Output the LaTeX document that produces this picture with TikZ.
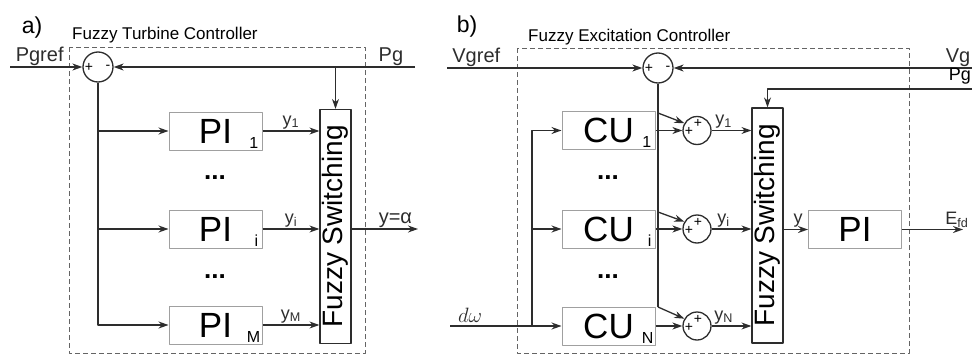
\documentclass[tikz,border=0pt]{standalone}
\usepackage{fontspec}
\setmainfont{Liberation Sans}
\usepackage{tikz}
\usetikzlibrary{arrows.meta}
\definecolor{lnc}{RGB}{45,45,45}
\definecolor{bxc}{RGB}{160,160,160}
\definecolor{frc}{RGB}{100,100,100}

\begin{document}
\begin{tikzpicture}[x=1pt,y=-1pt,line join=round,
  ln/.style={lnc,line width=1.3pt},
  arr/.style={ln,-{Stealth[length=10pt,width=7pt]}},
  frame/.style={frc,line width=0.9pt,dash pattern=on 5pt off 3pt},
  blk/.style={draw=bxc,line width=1pt,minimum width=93pt,minimum height=38pt,inner sep=0pt,font=\fontsize{35}{35}\selectfont},
  fsw/.style={draw=lnc,line width=1.2pt,minimum width=31pt,minimum height=234pt,inner sep=0pt,font=\fontsize{28}{28}\selectfont},
  sum/.style={circle,draw=lnc,line width=1.3pt,minimum size=30pt,inner sep=0pt},
  sumb/.style={sum,minimum size=28pt},
  sig/.style={font=\fontsize{14}{14}\selectfont,inner sep=0pt},
  sub/.style={font=\fontsize{16}{16}\selectfont,inner sep=0pt,anchor=south east},
  lbl/.style={font=\fontsize{20}{20}\selectfont,inner sep=1pt},
  ylbl/.style={font=\fontsize{18}{18}\selectfont,inner sep=1.5pt},
  ttl/.style={font=\fontsize{17}{17}\selectfont,inner sep=0pt,anchor=west},
  tag/.style={font=\fontsize{23}{23}\selectfont,inner sep=0pt},
  dts/.style={font=\fontsize{26}{26}\selectfont\bfseries,inner sep=0pt}]
  \useasboundingbox (0,0) rectangle (972,356);

  % a) turbine controller
  \node[tag] (taga) at (32,28) {a)};
  \node[ttl] (ttla) at (72,35) {Fuzzy Turbine Controller};
  \draw[frame] (69,47) rectangle (365,353);
  \node[sum] (sa) at (98,67) {};
  \node[sig] (sap) at ([xshift=-9pt]sa.center) {+}; \node[sig] (sam) at ([xshift=10pt]sa.center) {-};
  \coordinate (pgrefin) at (10,67); \coordinate (pgin) at (415,67);
  \draw[arr] (pgrefin) -- (sa) node[lbl,above,pos=0.41] (pgref) {Pgref};
  \draw[arr] (pgin) -- (sa) node[lbl,above,pos=0.08] (pga) {Pg};
  \node[fsw] (fsa) at (335.5,226.5) {\rotatebox{90}{Fuzzy Switching}};
  \draw[arr] (fsa.north |- pgin) -- (fsa.north);
  \node[blk] (pi1) at (215.5,131) {PI}; \node[blk] (pii) at (215.5,229) {PI}; \node[blk] (piM) at (215.5,325) {PI};
  \node[sub] (pi1s) at ([xshift=-4pt,yshift=2pt]pi1.south east) {1};
  \node[sub] (piis) at ([xshift=-4pt,yshift=2pt]pii.south east) {i};
  \node[sub] (piMs) at ([xshift=-2pt,yshift=2pt]piM.south east) {M};
  \node[dts] (da1) at (215,178) {...}; \node[dts] (da2) at (215,277) {...};
  \draw[arr] (sa) |- (piM);
  \draw[arr] (sa.south |- pi1) -- (pi1); \draw[arr] (sa.south |- pii) -- (pii);
  \draw[arr] (pi1) -- (pi1 -| fsa.west) node[ylbl,above,midway] (y1a) {y\textsubscript{1}};
  \draw[arr] (pii) -- (pii -| fsa.west) node[ylbl,above,midway] (yia) {y\textsubscript{i}};
  \draw[arr] (piM) -- (piM -| fsa.west) node[ylbl,above,midway] (yMa) {y\textsubscript{M}};
  \coordinate (ya) at (418,229);
  \draw[arr] (fsa.east |- pii) -- (ya) node[lbl,above,pos=0.66] (yout) {y=α};

  % b) excitation controller
  \node[tag] (tagb) at (467,27) {b)};
  \node[ttl] (ttlb) at (528,37) {Fuzzy Excitation Controller};
  \draw[frame] (517,48) rectangle (909,353);
  \node[sum] (sb) at (658,68) {};
  \node[sig] (sbp) at ([xshift=-9pt]sb.center) {+}; \node[sig] (sbm) at ([xshift=10pt]sb.center) {-};
  \coordinate (vgrefin) at (447,68); \coordinate (vgin) at (972,68); \coordinate (pgbin) at (972,89);
  \draw[arr] (vgrefin) -- (sb) node[lbl,above,pos=0.15] (vgref) {Vgref};
  \draw[arr] (vgin) -- (sb) node[lbl,above left,pos=0] (vg) {Vg};
  \node[lbl,anchor=north east,font=\fontsize{18}{18}\selectfont] (pgb) at (972,67) {Pg};
  \node[fsw,minimum height=235pt] (fsb) at (767.5,225.5) {\rotatebox{90}{Fuzzy Switching}};
  \draw[arr] (pgbin) -| (fsb.north);
  \node[blk] (cu1) at (608.5,130.5) {CU}; \node[blk] (cui) at (608.5,229) {CU}; \node[blk] (cuN) at (608.5,326) {CU};
  \node[sub] (cu1s) at ([xshift=-4pt,yshift=2pt]cu1.south east) {1};
  \node[sub] (cuis) at ([xshift=-4pt,yshift=2pt]cui.south east) {i};
  \node[sub] (cuNs) at ([xshift=-2pt,yshift=2pt]cuN.south east) {N};
  \node[dts] (db1) at (608,178) {...}; \node[dts] (db2) at (608,277) {...};
  \coordinate (dwin) at (450,326); \coordinate (bj) at (532,326);
  \draw[arr] (dwin) -- (cuN) node[above,pos=0.18,font=\fontsize{21}{21}\selectfont] (dw) {$d\omega$};
  \draw[arr] (bj) |- (cu1); \draw[arr] (bj |- cui) -- (cui);
  \node[sumb] (s1) at (697,130.5) {}; \node[sumb] (si) at (697,229) {}; \node[sumb] (sN) at (697,326) {};
  \node[sig] (s1t) at ([xshift=1pt,yshift=7pt]s1.center) {+}; \node[sig] (s1l) at ([xshift=-8pt,yshift=-1pt]s1.center) {+};
  \node[sig] (sit) at ([xshift=1pt,yshift=7pt]si.center) {+}; \node[sig] (sil) at ([xshift=-8pt,yshift=-1pt]si.center) {+};
  \node[sig] (sNt) at ([xshift=1pt,yshift=7pt]sN.center) {+}; \node[sig] (sNl) at ([xshift=-8pt,yshift=-1pt]sN.center) {+};
  \coordinate (k1) at (658,113); \coordinate (ki) at (658,212); \coordinate (kN) at (658,307);
  \draw[ln] (sb) -- (kN);
  \draw[arr] (k1) -- (s1.150); \draw[arr] (ki) -- (si.150); \draw[arr] (kN) -- (sN.150);
  \draw[arr] (cu1) -- (s1); \draw[arr] (cui) -- (si); \draw[arr] (cuN) -- (sN);
  \draw[arr] (s1) -- (s1 -| fsb.west) node[ylbl,above,pos=0.3] (y1b) {y\textsubscript{1}};
  \draw[arr] (si) -- (si -| fsb.west) node[ylbl,above,pos=0.3] (yib) {y\textsubscript{i}};
  \draw[arr] (sN) -- (sN -| fsb.west) node[ylbl,above,pos=0.3] (yNb) {y\textsubscript{N}};
  \node[blk] (pib) at (855,229.5) {PI};
  \draw[arr] (fsb.east |- pib) -- (pib) node[ylbl,above,pos=0.6] (yb) {y};
  \coordinate (efd) at (963,229.5);
  \draw[arr] (pib) -- (efd) node[ylbl,above,pos=0.9] (efdl) {E\textsubscript{fd}};
\end{tikzpicture}
\end{document}
